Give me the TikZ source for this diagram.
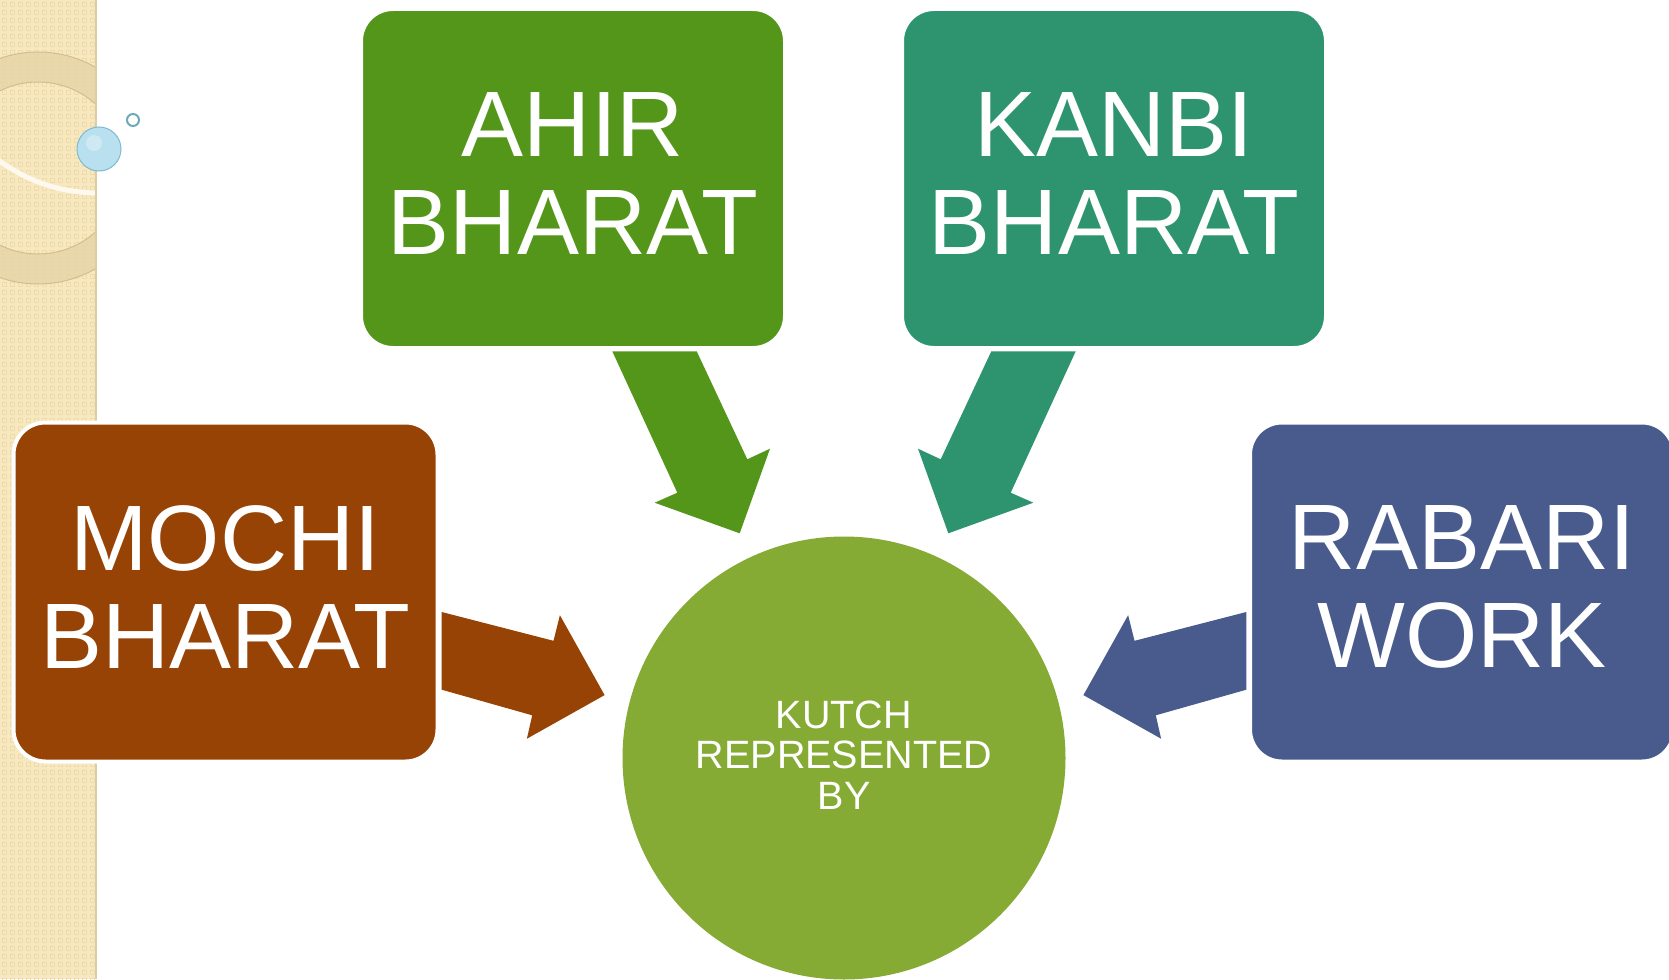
\documentclass[tikz,border=0pt]{standalone}
\usepackage{fontspec}
\setmainfont{Liberation Sans}
\definecolor{ahirgreen}{HTML}{549619}
\definecolor{kanbiteal}{HTML}{2E9470}
\definecolor{mochibrown}{HTML}{974306}
\definecolor{rabariblue}{HTML}{485B8C}
\definecolor{circlegreen}{HTML}{86AB35}
\definecolor{strip}{HTML}{F8E8C0}
\definecolor{stripdot}{HTML}{EEDBAA}
\definecolor{ringband}{HTML}{E6D4A6}
\definecolor{ringedge}{HTML}{D2BF90}
\definecolor{stripedge}{HTML}{DCCDA6}
\definecolor{bubble}{HTML}{B9E0EE}
\definecolor{bubbleedge}{HTML}{7FBBD2}
\definecolor{smallring}{HTML}{6FA9B9}
\begin{document}
\begin{tikzpicture}[x=1pt,y=-1pt,
  box/.style={rounded corners=32pt, minimum width=424pt, minimum height=339pt, draw=white, line width=4pt, inner sep=0pt},
  boxlabel/.style={text=white, align=center, font=\fontsize{93}{98}\selectfont, inner sep=0pt},
  centerlabel/.style={text=white, align=center, font=\fontsize{39.5}{40.5}\selectfont, inner sep=0pt},
  blockarrow/.style={draw=none}]
\useasboundingbox (0,0) rectangle (1669,979);
\fill[white] (0,0) rectangle (1669,979);
% left decorative strip
\fill[strip] (0,0) rectangle (96,979);
\foreach \i in {0,...,11}{\foreach \j in {0,...,122}{\draw[stripdot, line width=0.7pt] (8*\i+2,8*\j+2) rectangle (8*\i+6,8*\j+6);}}
\begin{scope}
\clip (0,0) rectangle (96,979);
\fill[ringband, opacity=0.8, even odd rule] (38,168) circle[radius=116pt] (38,168) circle[radius=86pt];
\draw[ringedge, line width=1pt] (38,168) circle[radius=116pt] (38,168) circle[radius=86pt];
\draw[white!75!strip, line width=5pt, line cap=round] (-5,158) .. controls (30,183) and (62,193) .. (100,193);
\end{scope}
\draw[stripedge, line width=1.5pt] (96,0) -- (96,979);
\fill[bubble] (99,149) circle[radius=22pt];
\draw[bubbleedge, line width=1pt] (99,149) circle[radius=22pt];
\fill[white, opacity=0.3] (94,143) circle[radius=8pt];
\draw[smallring, line width=2pt] (133,120) circle[radius=6pt];
% boxes
\node[box, fill=ahirgreen] (ahir) at (573,178.5) {};
\node[box, fill=kanbiteal] (kanbi) at (1114,178.5) {};
\node[box, fill=mochibrown] (mochi) at (225.5,592) {};
\node[box, fill=rabariblue] (rabari) at (1462,592) {};
\node[circle, fill=circlegreen, minimum size=443pt, inner sep=0pt] (kutch) at (844,758) {};
% block arrows
\fill[ahirgreen, blockarrow] (612.3,351.3) -- (696.7,351.3) -- (747.3,459.3) -- (770,448.7) -- (739.7,533.3) -- (654.7,502.7) -- (677.3,492.7) -- cycle;
\fill[kanbiteal, blockarrow] (1075.7,351.3) -- (991.3,351.3) -- (940.7,459.3) -- (918,448.7) -- (948.3,533.3) -- (1033.3,502.7) -- (1010.7,492.7) -- cycle;
\fill[mochibrown, blockarrow] (441.7,612) -- (553.5,640.8) -- (559.9,615.2) -- (604.6,695.1) -- (526.9,738.7) -- (532.2,715.3) -- (441.7,689.7) -- cycle;
\fill[rabariblue, blockarrow] (1246.3,612) -- (1134.5,640.8) -- (1128.1,615.2) -- (1083.4,695.1) -- (1161.1,738.7) -- (1155.8,715.3) -- (1246.3,689.7) -- cycle;
% labels
\node[boxlabel] (ahirtext) at ([yshift=5pt]ahir.center) {AHIR\\BHARAT};
\node[boxlabel] (kanbitext) at ([yshift=5pt]kanbi.center) {KANBI\\BHARAT};
\node[boxlabel] (mochitext) at ([yshift=5pt]mochi.center) {MOCHI\\BHARAT};
\node[boxlabel] (rabaritext) at ([yshift=5pt]rabari.center) {RABARI\\WORK};
\node[centerlabel] (kutchtext) at ([yshift=3pt]kutch.center) {KUTCH\\REPRESENTED\\BY};
\end{tikzpicture}
\end{document}
